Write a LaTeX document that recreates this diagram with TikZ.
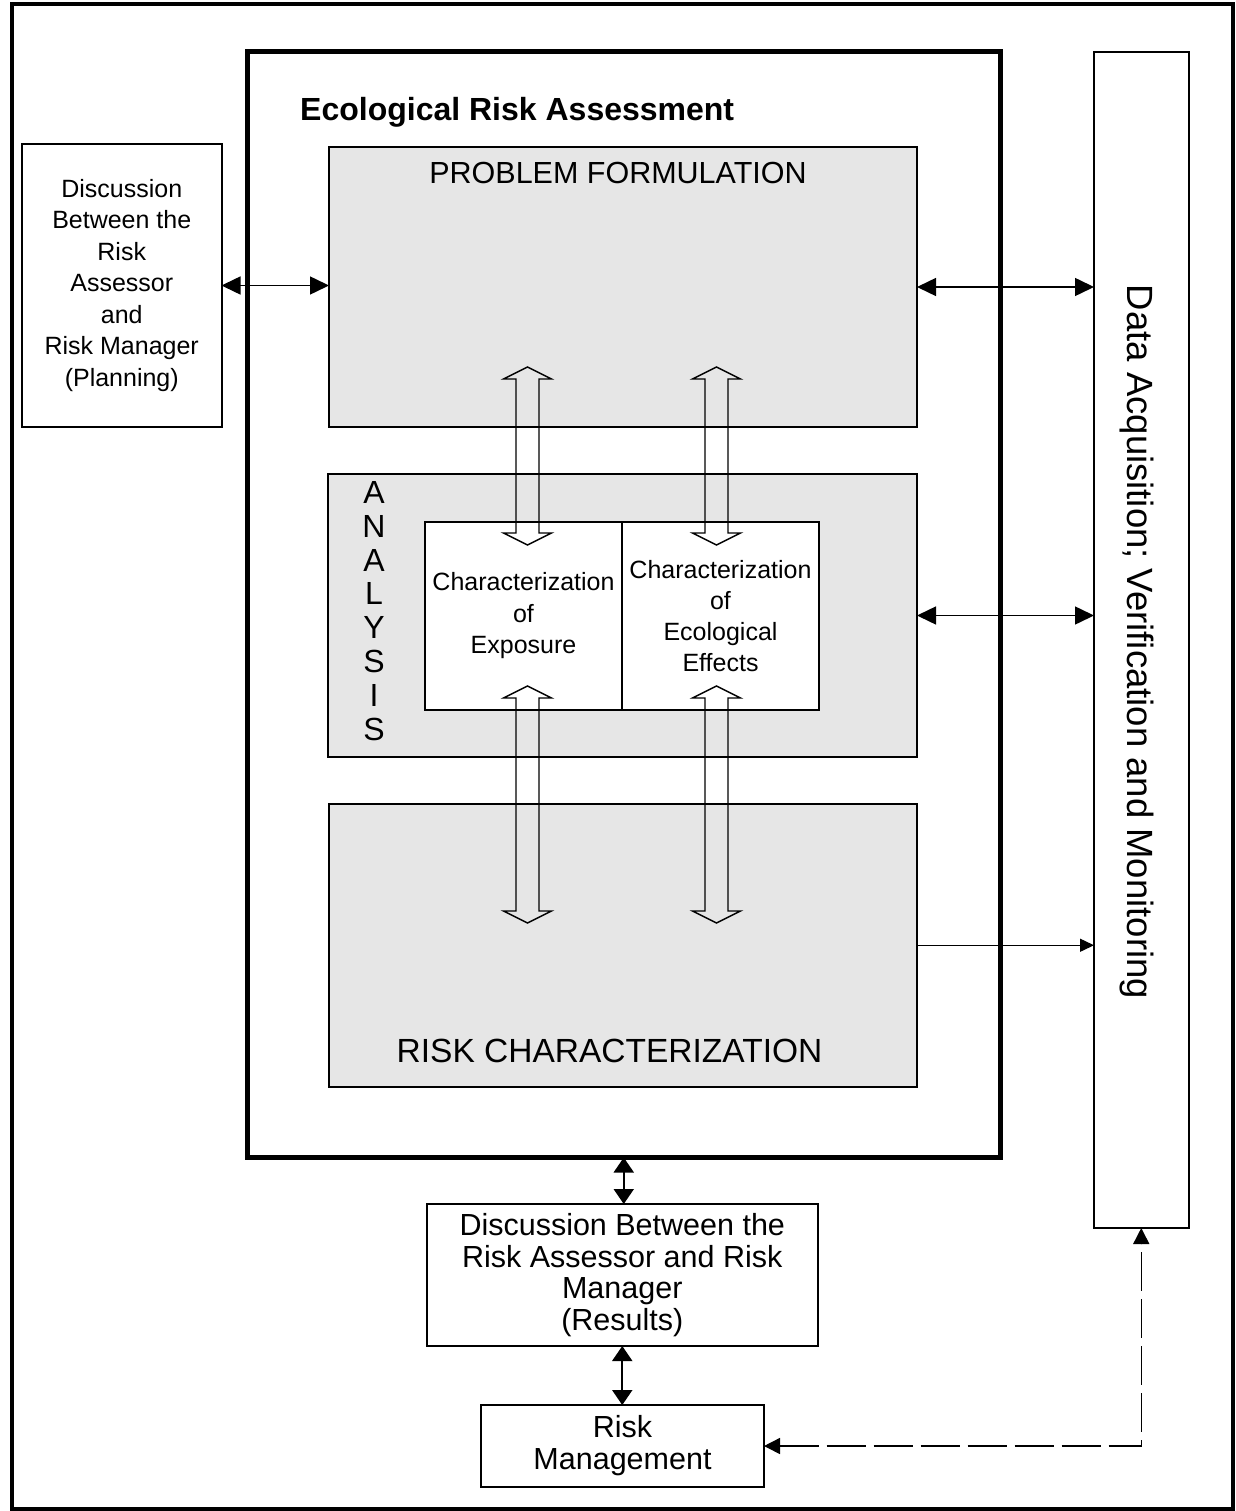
\documentclass[tikz,border=0pt]{standalone}
\usepackage{fontspec}
\setmainfont{Liberation Sans}
\usetikzlibrary{arrows.meta}
\definecolor{panelgray}{RGB}{230,230,230}

% hollow two-headed block arrow: x, top tip y, bottom tip y
\newcommand{\hollowarrow}[3]{%
  \draw[line width=1.4pt, line join=miter]
    (#1,#2) -- (#1+24,#2+12) -- (#1+11.5,#2+12) -- (#1+11.5,#3-12)
    -- (#1+24,#3-12) -- (#1,#3) -- (#1-24,#3-12) -- (#1-11.5,#3-12)
    -- (#1-11.5,#2+12) -- (#1-24,#2+12) -- cycle;}

\tikzset{
  box/.style={draw, line width=2pt, inner sep=0pt, outer sep=0pt, align=center},
  panel/.style={box, fill=panelgray},
  bigtip/.style={line width=1.5pt, {Triangle[length=19pt,width=18pt]}-{Triangle[length=19pt,width=18pt]}},
  smalltip/.style={line width=1.5pt, -{Triangle[length=14pt,width=13pt]}},
  vtip/.style={line width=2pt, {Triangle[length=15pt,width=20pt]}-{Triangle[length=15pt,width=20pt]}},
  feedback/.style={line width=1.5pt, dash pattern=on 39pt off 8pt,
    {Triangle[length=16pt,width=16pt]}-{Triangle[length=16pt,width=16pt]}},
}

\begin{document}
\begin{tikzpicture}[x=1pt, y=-1pt]
\useasboundingbox (0,0) rectangle (1235,1511);
\fill[white] (0,0) rectangle (1235,1511);

% outer frame
\draw[line width=4pt] (11.5,4.5) rectangle (1233,1508.5);

% assessment block
\node[draw, line width=5pt, inner sep=0pt, outer sep=0pt,
      minimum width=752.5pt, minimum height=1105.5pt] (era) at (623.75,604.75) {};
\node[anchor=base west, inner sep=0pt, font=\bfseries\fontsize{32}{38}\selectfont]
  (title) at (300,121) {Ecological Risk Assessment};

% phases
\node[panel, minimum width=588pt, minimum height=280pt] (pf) at (623,287) {};
\node[anchor=base, inner sep=0pt, font=\fontsize{30.5}{36}\selectfont]
  (pflabel) at (618,184) {PROBLEM FORMULATION};

\node[panel, minimum width=589pt, minimum height=283pt] (an) at (622.5,615.5) {};
\node[anchor=north, align=center, inner sep=0pt, font=\fontsize{32}{33.9}\selectfont]
  (anlabel) at (374,481) {A\\N\\A\\L\\Y\\S\\I\\S};

\node[box, fill=white, minimum width=197pt, minimum height=187.5pt,
      font=\fontsize{25}{31.3}\selectfont] (expo) at (523.5,615.75)
  {Characterization\\of\\Exposure};
\node[box, fill=white, minimum width=197pt, minimum height=187.5pt,
      font=\fontsize{25}{31}\selectfont] (effe) at (720.5,615.75)
  {Characterization\\of\\Ecological\\Effects};

\node[panel, minimum width=588pt, minimum height=282.5pt] (rc) at (623,945.25) {};
\node[anchor=base, inner sep=0pt, font=\fontsize{33.5}{40}\selectfont]
  (rclabel) at (609.5,1062) {RISK CHARACTERIZATION};

% side and bottom boxes
\node[box, minimum width=199.5pt, minimum height=283pt,
      font=\fontsize{25}{31.5}\selectfont] (planning) at (121.75,285.5)
  {Discussion\\Between the\\Risk\\Assessor\\and\\Risk Manager\\(Planning)};

\node[box, minimum width=94.5pt, minimum height=1176pt] (data) at (1141.25,640) {};
\node[rotate=-90, anchor=base, inner sep=0pt, font=\fontsize{36.5}{40}\selectfont]
  (datalabel) at (1127,642) {Data Acquisition; Verification and Monitoring};

\node[box, minimum width=390.5pt, minimum height=142pt,
      font=\fontsize{30.5}{31.5}\selectfont] (results) at (622.25,1275)
  {Discussion Between the\\Risk Assessor and Risk\\Manager\\(Results)};

\node[box, minimum width=283pt, minimum height=82pt,
      font=\fontsize{30.5}{32}\selectfont] (rm) at (622.5,1446)
  {Risk\\Management};

% block arrows between phases
\hollowarrow{527.5}{367}{545}
\hollowarrow{716.5}{367}{545}
\hollowarrow{527.5}{686}{923}
\hollowarrow{716.5}{686}{923}

% connectors
\draw[bigtip] (planning.east) -- (planning.east -| pf.west);
\draw[bigtip] (pf.east) -- (pf.east -| data.west);
\draw[bigtip] (an.east) -- (an.east -| data.west);
\draw[smalltip] (rc.east) -- (rc.east -| data.west);
\draw[vtip] (era.south) -- (era.south |- results.north);
\draw[vtip] (results.south) -- (results.south |- rm.north);
\draw[feedback] (rm.east) -- (rm.east -| data.south) -- (data.south);
\end{tikzpicture}
\end{document}
